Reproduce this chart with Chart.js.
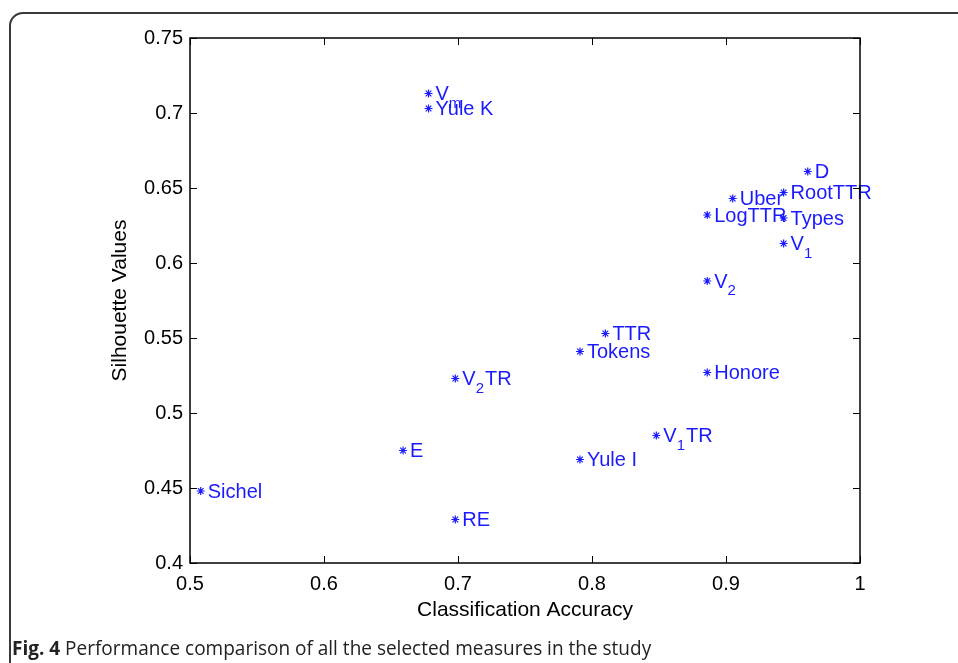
<!DOCTYPE html>
<html>
<head>
<meta charset="utf-8">
<script src="https://cdn.jsdelivr.net/npm/chart.js@4/dist/chart.umd.min.js"></script>
<style>
  html, body { margin: 0; padding: 0; background: #fff; overflow: hidden; }
  #wrap { position: relative; width: 958px; height: 663px; }
  #frame { position: absolute; left: 9px; top: 12px; width: 1000px; height: 700px;
           border: 2px solid #3a3a3a; border-radius: 14px; box-sizing: border-box; }
  canvas { position: absolute; left: 0; top: 0; }
  #caption { position: absolute; left: 12px; top: 636px; line-height: 24px; font-size: 20px;
             font-family: "Open Sans", "Liberation Sans", sans-serif; color: #222;
             white-space: nowrap; transform: scaleX(0.95); transform-origin: left center; }
  #caption b { font-weight: bold; }
</style>
</head>
<body>
<div id="wrap">
  <div id="frame"></div>
  <canvas id="c" width="958" height="663"></canvas>
  <div id="caption"><b>Fig. 4</b> Performance comparison of all the selected measures in the study</div>
</div>
<script>
// ---- data ----
const measures = ['V_m', 'Yule K', 'D', 'RootTTR', 'Uber', 'LogTTR', 'Types', 'V_1', 'V_2',
                  'TTR', 'Tokens', 'Honore', 'V_2TR', 'E', 'Sichel', 'RE', 'V_1TR', 'Yule I'];
const accuracy = [0.678, 0.678, 0.961, 0.943, 0.905, 0.886, 0.943, 0.943, 0.886,
                  0.810, 0.791, 0.886, 0.698, 0.659, 0.508, 0.698, 0.848, 0.791];
const silhouette = [0.713, 0.703, 0.661, 0.647, 0.643, 0.632, 0.630, 0.613, 0.588,
                    0.553, 0.541, 0.527, 0.523, 0.475, 0.448, 0.429, 0.485, 0.469];
const xTickValues = [0.5, 0.6, 0.7, 0.8, 0.9, 1];
const xTickLabels = ['0.5', '0.6', '0.7', '0.8', '0.9', '1'];
const yTickValues = [0.4, 0.45, 0.5, 0.55, 0.6, 0.65, 0.7, 0.75];
const yTickLabels = ['0.4', '0.45', '0.5', '0.55', '0.6', '0.65', '0.7', '0.75'];

const FONT = '"Liberation Sans", Arial, sans-serif';
const BLUE = '#1a1aff';

const points = measures.map((m, i) => ({ x: accuracy[i], y: silhouette[i], label: m }));

// parse "V_1TR" -> segments
function parseLabel(s) {
  const segs = [];
  let i = 0;
  while (i < s.length) {
    if (s[i] === '_' && i + 1 < s.length) { segs.push({ t: s[i + 1], sub: true }); i += 2; }
    else {
      let j = i;
      while (j < s.length && s[j] !== '_') j++;
      segs.push({ t: s.slice(i, j), sub: false }); i = j;
    }
  }
  return segs;
}

const boxPlugin = {
  id: 'boxAndLabels',
  afterDatasetsDraw(chart) {
    const ctx = chart.ctx;
    const a = chart.chartArea;
    const xs = chart.scales.x, ys = chart.scales.y;
    ctx.save();
    // labels
    ctx.fillStyle = BLUE;
    ctx.textBaseline = 'middle';
    ctx.textAlign = 'left';
    const meta = chart.getDatasetMeta(0);
    meta.data.forEach((el, i) => {
      let x = el.x + 7;
      const y = el.y + 1;
      parseLabel(points[i].label).forEach(seg => {
        if (seg.sub) {
          ctx.font = '15px ' + FONT;
          ctx.fillText(seg.t, x, y + 9);
        } else {
          ctx.font = '20px ' + FONT;
          ctx.fillText(seg.t, x, y);
        }
        x += ctx.measureText(seg.t).width + (seg.sub ? 1 : 0);
      });
    });
    // box
    ctx.strokeStyle = '#000';
    ctx.lineWidth = 1.5;
    ctx.strokeRect(a.left, a.top, a.right - a.left, a.bottom - a.top);
    // inward ticks
    ctx.lineWidth = 1;
    const tl = 7;
    ctx.beginPath();
    xTickValues.forEach(v => {
      const px = Math.round(xs.getPixelForValue(v)) + 0.5;
      ctx.moveTo(px, a.bottom); ctx.lineTo(px, a.bottom - tl);
      ctx.moveTo(px, a.top); ctx.lineTo(px, a.top + tl);
    });
    yTickValues.forEach(v => {
      const py = Math.round(ys.getPixelForValue(v)) + 0.5;
      ctx.moveTo(a.left, py); ctx.lineTo(a.left + tl, py);
      ctx.moveTo(a.right, py); ctx.lineTo(a.right - tl, py);
    });
    ctx.stroke();
    ctx.restore();
  }
};

new Chart(document.getElementById('c'), {
  type: 'scatter',
  data: {
    datasets: [{
      data: points,
      pointStyle: 'star',
      radius: 4,
      borderWidth: 1.2,
      borderColor: BLUE,
      backgroundColor: BLUE
    }]
  },
  options: {
    responsive: false,
    animation: false,
    layout: { padding: { left: 0, top: 38, right: 98, bottom: 0 } },
    plugins: { legend: { display: false }, tooltip: { enabled: false } },
    scales: {
      x: {
        type: 'linear', min: 0.5, max: 1,
        afterBuildTicks: s => { s.ticks = xTickValues.map(v => ({ value: v })); },
        afterFit: s => { s.height = 100; },
        ticks: {
          callback: (v, i) => xTickLabels[i],
          color: '#000', padding: 9, maxRotation: 0,
          font: { family: FONT, size: 20 }
        },
        grid: { display: false, drawTicks: false },
        border: { display: false },
        title: {
          display: true, text: 'Classification Accuracy', color: '#000',
          font: { family: FONT, size: 21 }, padding: { top: 0, bottom: 40 }
        }
      },
      y: {
        type: 'linear', min: 0.4, max: 0.75,
        afterBuildTicks: s => { s.ticks = yTickValues.map(v => ({ value: v })); },
        afterFit: s => { s.width = 190; },
        ticks: {
          callback: (v, i) => yTickLabels[i],
          color: '#000', padding: 7,
          font: { family: FONT, size: 20 }
        },
        grid: { display: false, drawTicks: false },
        border: { display: false },
        title: {
          display: true, text: 'Silhouette Values', color: '#000',
          font: { family: FONT, size: 21 }, padding: { top: 108, bottom: 0 }
        }
      }
    }
  },
  plugins: [boxPlugin]
});
</script>
</body>
</html>
